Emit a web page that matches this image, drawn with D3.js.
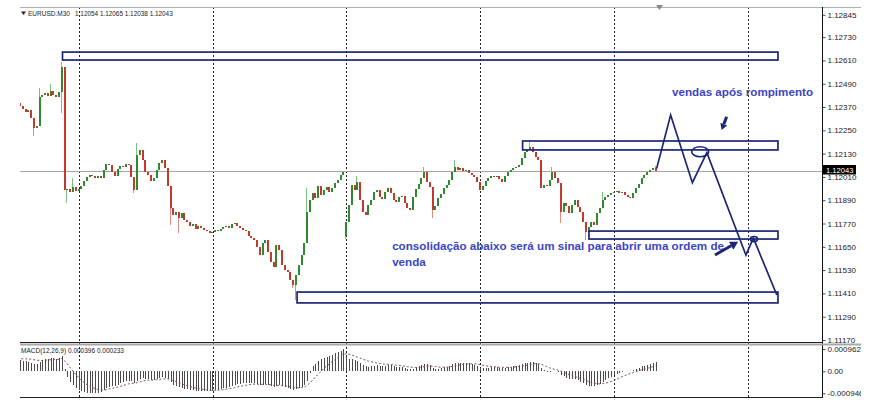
<!DOCTYPE html>
<html><head><meta charset="utf-8">
<script src="https://cdn.jsdelivr.net/npm/d3@7"></script>
<style>
html,body{margin:0;padding:0;background:#fff;}
svg{display:block;}
text{font-family:"Liberation Sans",Arial,sans-serif;}
</style></head><body>
<svg id="c" width="869" height="419"></svg>
<script>
// ---------- DATA (EURUSD M30, bar 0 = 1 May 13:00) ----------
const closes = [
1.12392,1.12377,1.12361,1.12346,1.12356,1.12315,1.12263,1.12273,1.12423,1.12433,
1.12444,1.12428,1.12454,1.12433,1.12423,1.12449,1.12578,1.11944,1.11949,1.11933,
1.11959,1.11938,1.11949,1.11964,1.11990,1.12011,1.12021,1.12016,1.12005,1.12016,
1.12005,1.12047,1.12078,1.12072,1.12036,1.12016,1.12052,1.12067,1.12062,1.12078,
1.12072,1.12011,1.11944,1.12124,1.12150,1.12098,1.12036,1.12021,1.11990,1.12005,
1.12047,1.12083,1.12098,1.12057,1.11964,1.11851,1.11815,1.11830,1.11799,1.11825,
1.11789,1.11779,1.11758,1.11768,1.11743,1.11758,1.11748,1.11737,1.11732,1.11722,
1.11727,1.11737,1.11732,1.11743,1.11753,1.11758,1.11748,1.11768,1.11773,1.11758,
1.11748,1.11737,1.11732,1.11706,1.11696,1.11686,1.11650,1.11608,1.11670,1.11686,
1.11624,1.11572,1.11547,1.11660,1.11634,1.11557,1.11531,1.11521,1.11480,1.11454,
1.11505,1.11557,1.11608,1.11670,1.11830,1.11892,1.11928,1.11902,1.11964,1.11918,
1.11944,1.11959,1.11933,1.11954,1.11980,1.11995,1.12021,1.12036,1.11779,1.11866,
1.11969,1.11944,1.11985,1.11892,1.11830,1.11815,1.11866,1.11892,1.11933,1.11944,
1.11907,1.11897,1.11933,1.11954,1.11928,1.11892,1.11882,1.11907,1.11913,1.11877,
1.11851,1.11840,1.11907,1.11949,1.11974,1.12005,1.12036,1.11985,1.11959,1.11840,
1.11861,1.11902,1.11923,1.11954,1.11969,1.11995,1.12036,1.12062,1.12047,1.12057,
1.12041,1.12047,1.12031,1.12021,1.12011,1.11985,1.11944,1.11964,1.11990,1.12005,
1.12016,1.12011,1.12016,1.12000,1.11985,1.12016,1.12036,1.12047,1.12057,1.12062,
1.12072,1.12109,1.12139,1.12150,1.12165,1.12139,1.12114,1.12098,1.11954,1.11969,
1.11964,1.11995,1.12036,1.12005,1.11980,1.11830,1.11877,1.11861,1.11825,1.11866,
1.11892,1.11856,1.11830,1.11779,1.11727,1.11753,1.11779,1.11763,1.11825,1.11851,
1.11892,1.11907,1.11918,1.11928,1.11933,1.11938,1.11928,1.11933,1.11918,1.11907,
1.11902,1.11928,1.11954,1.11974,1.12005,1.12021,1.12036,1.12047,1.12054,1.12043
];
// opens that differ from the previous close (first bar, Monday gap, current bar)
const openOverrides = {0:1.12408, 118:1.11706, 229:1.12054};
// notable wick extremes
const highs = {8:1.12469, 12:1.12490, 16:1.12603, 20:1.12005, 43:1.12186, 104:1.11954,
  122:1.12016, 146:1.12062, 157:1.12098, 184:1.12191, 192:1.12062, 210:1.11933, 229:1.12065};
const lows = {6:1.12222, 16:1.12340, 18:1.11877, 42:1.11928, 55:1.11763, 58:1.11722,
  99:1.11438, 100:1.11376, 118:1.11691, 149:1.11799, 195:1.11773, 204:1.11686, 229:1.12038};

const macdMain = [
0.00050,0.00048,0.00046,0.00043,0.00041,0.00037,0.00031,0.00030,0.00040,0.00047,
0.00052,0.00053,0.00056,0.00056,0.00054,0.00056,0.00066,0.00012,-0.00026,-0.00047,
-0.00060,-0.00071,-0.00079,-0.00085,-0.00089,-0.00092,-0.00093,-0.00094,-0.00094,-0.00092,
-0.00088,-0.00080,-0.00072,-0.00066,-0.00063,-0.00062,-0.00057,-0.00051,-0.00047,-0.00043,
-0.00040,-0.00041,-0.00049,-0.00040,-0.00031,-0.00029,-0.00031,-0.00033,-0.00036,-0.00036,
-0.00033,-0.00029,-0.00026,-0.00027,-0.00034,-0.00046,-0.00057,-0.00063,-0.00069,-0.00071,
-0.00075,-0.00078,-0.00081,-0.00082,-0.00084,-0.00084,-0.00085,-0.00085,-0.00085,-0.00085,
-0.00084,-0.00082,-0.00080,-0.00077,-0.00073,-0.00070,-0.00067,-0.00063,-0.00059,-0.00056,
-0.00054,-0.00052,-0.00050,-0.00050,-0.00050,-0.00051,-0.00054,-0.00060,-0.00058,-0.00055,
-0.00057,-0.00063,-0.00068,-0.00063,-0.00061,-0.00064,-0.00068,-0.00071,-0.00075,-0.00079,
-0.00078,-0.00073,-0.00066,-0.00058,-0.00042,-0.00008,0.00022,0.00033,0.00044,0.00052,
0.00058,0.00063,0.00066,0.00071,0.00077,0.00082,0.00089,0.00096,0.00062,0.00055,
0.00052,0.00047,0.00044,0.00036,0.00027,0.00021,0.00020,0.00021,0.00025,0.00027,
0.00025,0.00023,0.00025,0.00027,0.00026,0.00022,0.00019,0.00019,0.00019,0.00016,
0.00012,0.00009,0.00012,0.00017,0.00021,0.00026,0.00031,0.00030,0.00027,0.00015,
0.00010,0.00012,0.00014,0.00018,0.00020,0.00024,0.00030,0.00035,0.00036,0.00037,
0.00036,0.00036,0.00034,0.00031,0.00029,0.00024,0.00016,0.00014,0.00015,0.00016,
0.00017,0.00017,0.00017,0.00015,0.00013,0.00015,0.00018,0.00020,0.00022,0.00024,
0.00026,0.00030,0.00035,0.00038,0.00041,0.00040,0.00036,0.00032,0.00016,0.00006,
-0.00001,-0.00002,0.00002,0.00001,-0.00003,-0.00016,-0.00022,-0.00027,-0.00033,-0.00035,
-0.00035,-0.00039,-0.00044,-0.00051,-0.00060,-0.00063,-0.00064,-0.00065,-0.00060,-0.00054,
-0.00045,-0.00037,-0.00030,-0.00023,-0.00017,-0.00011,-0.00007,-0.00003,0.00000,0.00001,
0.00002,0.00006,0.00011,0.00016,0.00021,0.00025,0.00029,0.00033,0.00037,0.000396
];
const macdSignal = [
0.00055,0.00055,0.00054,0.00054,0.00053,0.00052,0.00050,0.00048,0.00047,0.00047,
0.00048,0.00049,0.00050,0.00051,0.00052,0.00052,0.00055,0.00046,0.00032,0.00016,
0.00001,-0.00013,-0.00026,-0.00038,-0.00048,-0.00057,-0.00064,-0.00070,-0.00075,-0.00078,
-0.00080,-0.00080,-0.00079,-0.00076,-0.00073,-0.00071,-0.00068,-0.00065,-0.00061,-0.00058,
-0.00054,-0.00052,-0.00051,-0.00049,-0.00045,-0.00042,-0.00040,-0.00038,-0.00038,-0.00037,
-0.00036,-0.00035,-0.00033,-0.00032,-0.00032,-0.00035,-0.00040,-0.00044,-0.00049,-0.00053,
-0.00058,-0.00062,-0.00065,-0.00069,-0.00072,-0.00074,-0.00077,-0.00078,-0.00080,-0.00081,
-0.00082,-0.00082,-0.00081,-0.00080,-0.00079,-0.00077,-0.00075,-0.00073,-0.00070,-0.00067,
-0.00065,-0.00062,-0.00060,-0.00058,-0.00056,-0.00055,-0.00055,-0.00056,-0.00056,-0.00056,
-0.00056,-0.00058,-0.00060,-0.00060,-0.00061,-0.00062,-0.00063,-0.00065,-0.00067,-0.00070,
-0.00071,-0.00071,-0.00070,-0.00067,-0.00060,-0.00050,-0.00038,-0.00025,-0.00012,0.00000,
0.00012,0.00023,0.00033,0.00042,0.00051,0.00059,0.00067,0.00074,0.00076,0.00074,
0.00070,0.00066,0.00061,0.00057,0.00052,0.00048,0.00044,0.00041,0.00038,0.00036,
0.00034,0.00032,0.00031,0.00030,0.00029,0.00028,0.00026,0.00025,0.00024,0.00022,
0.00020,0.00018,0.00017,0.00017,0.00017,0.00018,0.00020,0.00022,0.00023,0.00022,
0.00021,0.00019,0.00018,0.00018,0.00018,0.00019,0.00021,0.00023,0.00026,0.00028,
0.00030,0.00031,0.00032,0.00032,0.00032,0.00031,0.00029,0.00026,0.00024,0.00022,
0.00021,0.00020,0.00019,0.00018,0.00017,0.00017,0.00017,0.00017,0.00018,0.00019,
0.00020,0.00022,0.00024,0.00027,0.00030,0.00032,0.00033,0.00033,0.00030,0.00026,
0.00020,0.00015,0.00011,0.00008,0.00005,0.00001,-0.00004,-0.00009,-0.00014,-0.00018,
-0.00022,-0.00026,-0.00030,-0.00034,-0.00039,-0.00044,-0.00048,-0.00051,-0.00053,-0.00054,
-0.00053,-0.00051,-0.00048,-0.00044,-0.00039,-0.00034,-0.00028,-0.00023,-0.00018,-0.00013,
-0.00009,-0.00005,-0.00001,0.00003,0.00007,0.00010,0.00013,0.00016,0.00020,0.000233
];

const priceTicks = [1.12845,1.12730,1.12610,1.12490,1.12370,1.12250,1.12130,1.12010,1.11890,1.11770,1.11650,1.11530,1.11410,1.11290,1.11170];
const macdTicks = [0.000962, 0, -0.000946];
const timeLabels = ["1 May 2019","1 May 21:00","2 May 05:00","2 May 13:00","2 May 21:00","3 May 05:00","3 May 13:00","3 May 21:00","6 May 05:00","6 May 13:00","6 May 21:00","7 May 05:00","7 May 13:00","7 May 21:00","8 May 05:00"];
const timeTickBars = [0,16,32,48,64,80,96,112,128,144,160,176,192,208,224];
const daySeparatorBars = [22,70,118,166,214,262];
const symbol = "EURUSD.M30";
const macdName = "MACD(12,26,9)";

// drawing objects (anchored at bar index / price)
const rectObjects = [
  {b0:16.25, b1:272.9, p0:1.12653, p1:1.12612},
  {b0:181.3, b1:272.9, p0:1.12195, p1:1.12149},
  {b0:205.1, b1:272.9, p0:1.11731, p1:1.11690},
  {b0:100.4, b1:272.9, p0:1.11417, p1:1.11361}
];
const zigzagBars   = [229.4, 234.4, 242.2, 247.4, 261.4, 264.1, 272.5];
const zigzagPrices = [1.12054, 1.12329, 1.11980, 1.12135, 1.11608, 1.11694, 1.11402];
const ellipseObjects = [{b:245.0, p:1.12140, rx:8.5, ry:5}, {b:264.3, p:1.11690, rx:3.6, ry:2.6}];
const arrowObjects = [
  {b0:254.5, p0:1.12320, b1:252.7, p1:1.12252, head:6, hw:3.6, w:3},
  {b0:250.3, p0:1.11608, b1:258.6, p1:1.11676, head:8, hw:4.5, w:3}
];
const textObjects = [
  {b:234.9, p:1.12427, t:"vendas após rompimento"},
  {b:134.5, p:1.11634, t:"consolidação abaixo será um sinal para abrir uma ordem de"},
  {b:134.5, p:1.11551, t:"venda"}
];

// ---------- LAYOUT ----------
const L = {left:20, right:822, top:7, mainBottom:342, macdTop:345, macdBottom:397, axisClip:861};
const navy = "#1c2677", noteBlue = "#3b45c4";

const svg = d3.select("#c");
const x = d3.scaleLinear().domain([0, 288.7]).range([17.2, 822]);
const y = d3.scaleLinear().domain([1.11170, 1.12845]).range([340, 14.8]);
const ym = d3.scaleLinear().domain([-0.000946, 0.000962]).range([393.3, 349]);

const defs = svg.append("defs");
defs.append("clipPath").attr("id","cm").append("rect")
  .attr("x",L.left).attr("y",L.top).attr("width",L.right-L.left).attr("height",L.mainBottom-L.top);
defs.append("clipPath").attr("id","cd").append("rect")
  .attr("x",L.left).attr("y",L.macdTop).attr("width",L.right-L.left).attr("height",L.macdBottom-L.macdTop);
defs.append("clipPath").attr("id","ca").append("rect")
  .attr("x",0).attr("y",0).attr("width",L.axisClip).attr("height",419);
defs.append("clipPath").attr("id","ct").append("rect")
  .attr("x",21.3).attr("y",L.macdBottom).attr("width",L.right-21.3).attr("height",22);

// day separators
svg.append("g").selectAll("line").data(daySeparatorBars).join("line")
  .attr("x1", d => Math.floor(x(d)+0.8)+0.5).attr("x2", d => Math.floor(x(d)+0.8)+0.5)
  .attr("y1", L.top).attr("y2", L.macdBottom)
  .attr("stroke","#222").attr("stroke-width",1).attr("stroke-dasharray","2,2");

// bars
const last = closes.length-1;
const bars = closes.map((c,i) => {
  const o = openOverrides[i] !== undefined ? openOverrides[i] : closes[i-1];
  const h = Math.max(o, c, highs[i] !== undefined ? highs[i] : -Infinity);
  const l = Math.min(o, c, lows[i] !== undefined ? lows[i] : Infinity);
  return {i, o, h, l, c};
});

// current price line
const curY = Math.round(y(closes[last])) + 0.5;
svg.append("line").attr("x1",L.left).attr("x2",L.right).attr("y1",curY).attr("y2",curY)
  .attr("stroke","#a6a6a6").attr("stroke-width",1);

const gMain = svg.append("g").attr("clip-path","url(#cm)").attr("shape-rendering","crispEdges");
const bull = "#2f8a2f", bear = "#c5392c";
gMain.selectAll("line.w").data(bars).join("line").attr("class","w")
  .attr("x1", d => Math.round(x(d.i))-0.5).attr("x2", d => Math.round(x(d.i))-0.5)
  .attr("y1", d => y(d.h)).attr("y2", d => y(d.l))
  .attr("stroke", d => d.c >= d.o ? "#7fbf7f" : "#e08a80").attr("stroke-width",1);
gMain.selectAll("rect.b").data(bars).join("rect").attr("class","b")
  .attr("x", d => Math.round(x(d.i))-1).attr("width",2)
  .attr("y", d => Math.min(y(d.o), y(d.c)))
  .attr("height", d => Math.max(1, Math.abs(y(d.o)-y(d.c))))
  .attr("fill", d => d.c >= d.o ? bull : bear);

// MACD histogram + signal
const gMacd = svg.append("g").attr("clip-path","url(#cd)");
gMacd.append("g").attr("shape-rendering","crispEdges")
  .selectAll("line").data(macdMain).join("line")
  .attr("x1",(d,i)=>Math.round(x(i))+0.5).attr("x2",(d,i)=>Math.round(x(i))+0.5)
  .attr("y1", ym(0)).attr("y2", d => ym(d))
  .attr("stroke","#4a4a4a").attr("stroke-width",1);
gMacd.append("path").datum(macdSignal)
  .attr("d", d3.line().x((d,i)=>x(i)).y(d=>ym(d)))
  .attr("fill","none").attr("stroke","#8a5050").attr("stroke-width",1).attr("stroke-dasharray","2,2");

// drawing objects
const gObj = svg.append("g").attr("clip-path","url(#cm)");
gObj.selectAll("rect").data(rectObjects).join("rect")
  .attr("x", d => x(d.b0)).attr("y", d => y(d.p0))
  .attr("width", d => x(d.b1)-x(d.b0)).attr("height", d => y(d.p1)-y(d.p0))
  .attr("fill","none").attr("stroke",navy).attr("stroke-width",1.7);
gObj.append("path").datum(zigzagBars.map((b,i)=>[b, zigzagPrices[i]]))
  .attr("d", d3.line().x(d=>x(d[0])).y(d=>y(d[1])))
  .attr("fill","none").attr("stroke",navy).attr("stroke-width",1.7).attr("stroke-linejoin","miter");
gObj.selectAll("ellipse").data(ellipseObjects).join("ellipse")
  .attr("cx", d => x(d.b)).attr("cy", d => y(d.p)).attr("rx", d=>d.rx).attr("ry", d=>d.ry)
  .attr("fill","none").attr("stroke",navy).attr("stroke-width",1.6);
arrowObjects.forEach(a => {
  const x1=x(a.b0), y1=y(a.p0), x2=x(a.b1), y2=y(a.p1);
  const dx=x2-x1, dy=y2-y1, len=Math.hypot(dx,dy), ux=dx/len, uy=dy/len;
  const bx=x2-ux*a.head, by=y2-uy*a.head;
  gObj.append("line").attr("x1",x1).attr("y1",y1).attr("x2",bx).attr("y2",by)
    .attr("stroke",navy).attr("stroke-width",a.w);
  gObj.append("path").attr("d",`M${x2},${y2}L${bx-uy*a.hw},${by+ux*a.hw}L${bx+uy*a.hw},${by-ux*a.hw}Z`)
    .attr("fill",navy);
});
gObj.selectAll("text").data(textObjects).join("text")
  .attr("x", d => x(d.b)).attr("y", d => y(d.p)).text(d => d.t)
  .attr("fill",noteBlue).attr("font-size","11.65px").attr("font-weight","bold");

// borders
svg.append("line").attr("x1",L.left).attr("x2",L.axisClip).attr("y1",L.top+0.5).attr("y2",L.top+0.5).attr("stroke","#b0b0b0");
svg.append("line").attr("x1",L.right+0.5).attr("x2",L.right+0.5).attr("y1",L.top).attr("y2",L.macdBottom+0.5).attr("stroke","#111");
svg.append("line").attr("x1",L.left).attr("x2",L.right).attr("y1",L.mainBottom+0.5).attr("y2",L.mainBottom+0.5).attr("stroke","#222");
svg.append("rect").attr("x",L.left).attr("y",L.mainBottom+1.5).attr("width",L.axisClip-L.left).attr("height",2).attr("fill","#a8a8a8");
svg.append("line").attr("x1",L.left).attr("x2",L.right+1).attr("y1",L.macdBottom+0.5).attr("y2",L.macdBottom+0.5).attr("stroke","#222");

// price axis
const axFont = "Liberation Sans, Arial, sans-serif";
const gAx = svg.append("g").attr("clip-path","url(#ca)");
const pa = gAx.append("g").attr("transform",`translate(${L.right+0.5},0)`)
  .call(d3.axisRight(y).tickValues(priceTicks).tickSize(3).tickPadding(2).tickFormat(d3.format(".5f")));
pa.select(".domain").remove();
pa.selectAll("text").attr("font-size","8px").attr("fill","#222").attr("font-family",axFont);
pa.selectAll("line").attr("stroke","#444");
const ma = gAx.append("g").attr("transform",`translate(${L.right+0.5},0)`)
  .call(d3.axisRight(ym).tickValues(macdTicks).tickSize(3).tickPadding(2).tickFormat(d => d===0 ? "0.00" : d.toFixed(6)));
ma.select(".domain").remove();
ma.selectAll("text").attr("font-size","8px").attr("fill","#222").attr("font-family",axFont);
ma.selectAll("line").attr("stroke","#444");
// current price box
const cy = y(closes[last]);
gAx.append("rect").attr("x",L.right+1).attr("y",cy-5.5).attr("width",33).attr("height",9.5).attr("fill","#000");
gAx.append("text").attr("x",L.right+4).attr("y",cy+2.2).text(d3.format(".5f")(closes[last]))
  .attr("fill","#fff").attr("font-size","7.6px").attr("font-family",axFont);

// time axis
const ta = svg.append("g").attr("clip-path","url(#ct)").attr("transform",`translate(0,${L.macdBottom+0.5})`)
  .call(d3.axisBottom(x).tickValues(timeTickBars).tickSize(2).tickPadding(3).tickFormat((d,i)=>timeLabels[i]));
ta.select(".domain").remove();
ta.selectAll("text").attr("text-anchor","start").attr("x",0).attr("font-size","6.9px").attr("fill","#222")
  .attr("font-family",axFont);
ta.selectAll("line").attr("stroke","#444");

// header
const f5 = d3.format(".5f");
svg.append("path").attr("d","M21,11.5L26,11.5L23.5,15Z").attr("fill","#222");
svg.append("text").attr("x",28).attr("y",16).text(symbol).attr("font-size","6.5px").attr("fill","#222");
svg.append("text").attr("x",75).attr("y",16)
  .text([bars[last].o, bars[last].h, bars[last].l, bars[last].c].map(f5).join(" "))
  .attr("font-size","6.4px").attr("fill","#222");
svg.append("text").attr("x",21).attr("y",353)
  .text(`${macdName} ${macdMain[last].toFixed(6)} ${macdSignal[last].toFixed(6)}`)
  .attr("font-size","6.5px").attr("fill","#222");
// chart shift marker
svg.append("path").attr("d","M656,5L663,5L659.5,10Z").attr("fill","#888");
</script>
</body></html>
